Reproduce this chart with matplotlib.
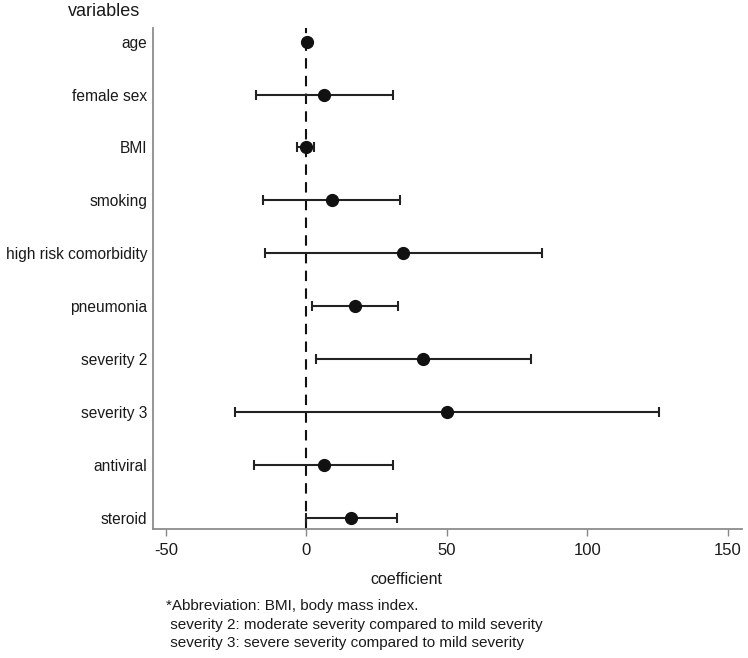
import matplotlib
matplotlib.use("Agg")
import matplotlib.pyplot as plt

plt.rcParams['font.family'] = ['Liberation Sans', 'DejaVu Sans']

variables = ["age", "female sex", "BMI", "smoking", "high risk comorbidity",
             "pneumonia", "severity 2", "severity 3", "antiviral", "steroid"]
coef = [0.2, 6.4, -0.3, 9.0, 34.5, 17.3, 41.6, 50.1, 6.3, 15.8]
ci_low = [-0.6, -18.0, -3.3, -15.3, -14.8, 1.9, 3.3, -25.5, -18.5, -0.3]
ci_high = [0.9, 30.8, 2.7, 33.3, 84.0, 32.6, 79.8, 125.7, 30.9, 32.1]
xticks = [-50, 0, 50, 100, 150]
caption = ["*Abbreviation: BMI, body mass index.",
           " severity 2: moderate severity compared to mild severity",
           " severity 3: severe severity compared to mild severity"]

fig = plt.figure(figsize=(7.48, 6.58), dpi=100)
ax = fig.add_axes([0.205, 0.1956, 0.7866, 0.7614])

ypos = list(range(1, len(variables) + 1))
xerr = [[c - l for c, l in zip(coef, ci_low)], [h - c for c, h in zip(coef, ci_high)]]

ax.axvline(0, color='#111111', lw=1.5, ls=(0, (5, 3.5)), zorder=1)
ax.errorbar(coef, ypos, xerr=xerr, fmt='o', color='#111111', ecolor='#222222',
            elinewidth=1.5, capsize=3.6, capthick=1.5, markersize=8.5, zorder=3)

ax.set_xlim(-54.5, 155)
ax.set_ylim(10.22, 0.747)
ax.set_yticks(ypos)
ax.set_yticklabels(variables, fontsize=11.2, color='#1a1a1a')
ax.set_xticks(xticks)
ax.set_xticklabels([str(t) for t in xticks], fontsize=12, color='#1a1a1a')
ax.tick_params(axis='y', length=0, pad=4.5)
ax.tick_params(axis='x', length=5, width=1, color='#888888', pad=5)

for s in ['top', 'right']:
    ax.spines[s].set_visible(False)
for s in ['left', 'bottom']:
    ax.spines[s].set_color('#8c8c8c')
    ax.spines[s].set_linewidth(1.3)

fig.text(406 / 748, 1 - 579 / 658, "coefficient", fontsize=11.5, ha='center', va='center', color='#1a1a1a')
fig.text(68 / 748, 1 - 11 / 658, "variables", fontsize=13, ha='left', va='center', color='#1a1a1a')

for i, line in enumerate(caption):
    fig.text(166 / 748, 1 - (606 + 18.5 * i) / 658, line, fontsize=11, ha='left', va='center', color='#1a1a1a')

fig.savefig("out.png", dpi=100)
